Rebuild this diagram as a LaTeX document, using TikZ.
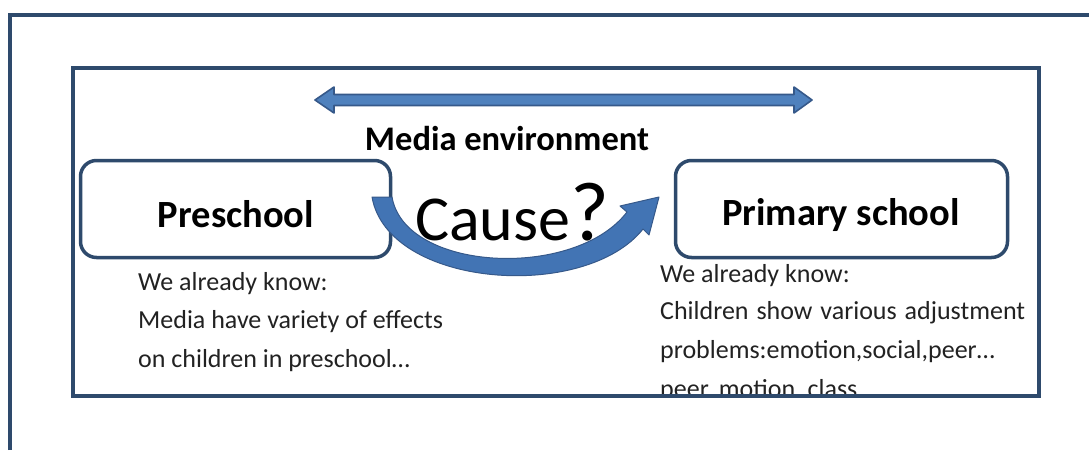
\documentclass[tikz,border=0pt]{standalone}
\usepackage{fontspec}
\setmainfont{Carlito}
\begin{document}
\begin{tikzpicture}[x=1pt,y=-1pt]
\definecolor{framecol}{HTML}{2E4A6C}
\definecolor{arrowfill}{HTML}{4F81BD}
\definecolor{arrowedge}{HTML}{36598A}
\definecolor{curvefill}{HTML}{4274B4}
\definecolor{bodytext}{HTML}{222222}
\tikzset{
  frameline/.style={draw=framecol, line width=4pt},
  stagebox/.style={draw=framecol, line width=3.5pt, rounded corners=16pt, fill=white, inner sep=0pt},
  boxtitle/.style={font=\fontsize{38.5}{40}\selectfont\bfseries, text=black, anchor=base, inner sep=0pt},
  body/.style={font=\fontsize{26}{28}\selectfont, text=bodytext, anchor=base west, inner sep=0pt},
}
\fill[white] (0,0) rectangle (1089,450);
\useasboundingbox (0,0) rectangle (1089,450);

% outer frame (cut off at the right and bottom)
\draw[frameline] (9.5,450) -- (9.5,15) -- (1089,15);

% inner frame background
\fill[white] (73,67.5) rectangle (1038.5,395.5);

% media environment double arrow
\filldraw[fill=arrowfill, draw=arrowedge, line width=1.6pt, line join=round]
  (315,100) -- (334,87) -- (334,94.5) -- (794,94.5) -- (794,87) -- (812,100)
  -- (794,113) -- (794,105.5) -- (334,105.5) -- (334,113) -- cycle;
\node[font=\fontsize{34.5}{36}\selectfont\bfseries, anchor=base, inner sep=0pt] (media) at (507,150) {Media environment};

% stage boxes
\node[stagebox, minimum width=310pt, minimum height=97pt] (pre) at (235.5,209) {};
\node[stagebox, minimum width=332pt, minimum height=97pt] (pri) at (841.5,209) {};
\node[boxtitle] (pretitle) at (236,227) {Preschool};
\node[boxtitle] (prititle) at (841,225) {Primary school};

% curved arrow from preschool to primary school
\coordinate (cstartout) at (372,197);
\coordinate (cstartin) at (392,197);
\coordinate (ctip) at (659,197);
\filldraw[fill=curvefill, draw=arrowedge, line width=1pt, line join=round]
  (cstartout) .. controls (388,288) and (585,302) .. (643,229)
  -- (649,235) -- (ctip) -- (620,206) -- (627,212)
  .. controls (575,280) and (405,272) .. (cstartin) -- cycle;

\node[font=\fontsize{64}{66}\selectfont, anchor=base west, inner sep=0pt] (cause) at (415,240)
  {Cause{\fontsize{84}{86}\selectfont ?}};

% notes under the boxes
\node[body] (l1) at (138,290) {We already know:};
\node[body] (l2) at (138,328) {Media have variety of effects};
\node[body] (l3) at (138,367) {on children in preschool…};

\node[body] (r1) at (660,282) {We already know:};
\node[body] (r2) at (660,319) {\makebox[365pt][s]{Children show various adjustment}};
\node[body] (r3) at (660,358) {problems:emotion,social,peer…};
\begin{scope}
  \clip (0,0) rectangle (1089,393);
  \node[body] (r4) at (660,397) {peer, motion, class…};
\end{scope}

% inner frame outline
\draw[frameline] (73,67.5) rectangle (1038.5,395.5);
\end{tikzpicture}
\end{document}
